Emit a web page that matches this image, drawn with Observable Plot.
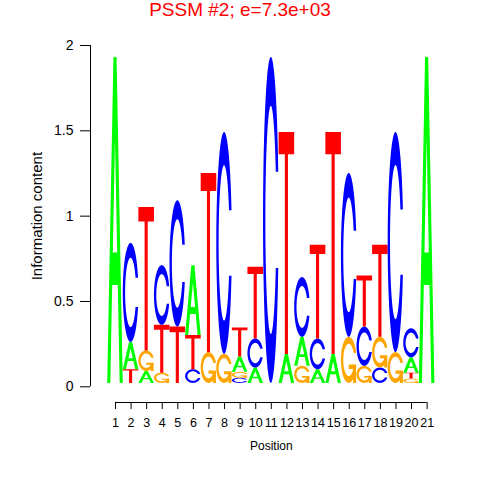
<!DOCTYPE html>
<html><head><meta charset="utf-8">
<script src="https://cdn.jsdelivr.net/npm/d3@7"></script>
<script src="https://cdn.jsdelivr.net/npm/@observablehq/plot@0.6"></script>
<style>
body{margin:0;background:#fff}
#wrap{position:relative;width:480px;height:480px;font-family:"Liberation Sans",Arial,sans-serif}
#title{position:absolute;top:0;left:0;width:480px;text-align:center;color:#ff0000;font-size:19px;line-height:20px}
</style>
</head><body>
<div id="wrap"><div id="title">PSSM #2; e=7.3e+03</div></div>
<script>
// ---- data ----
const positions = [1,2,3,4,5,6,7,8,9,10,11,12,13,14,15,16,17,18,19,20,21];
const letters = ["A","C","G","T"];
const letterColors = ["#00FF00","#0000FF","#FFA500","#FF0000"];
const heightA = [1.91,0.16,0.07,0,0,0.41,0,0,0.09,0.09,0,0.17,0.17,0.08,0.17,0,0,0,0,0.09,1.91];
const heightC = [0,0.58,0,0.35,0.74,0.08,0,1.30,0.03,0.17,1.91,0,0.35,0.18,0,0.96,0.23,0.09,1.29,0.17,0];
const heightG = [0,0,0.12,0.06,0,0,0.18,0.17,0.035,0,0,0,0.10,0,0,0.27,0.10,0.18,0.18,0.025,0];
const heightT = [0,0.08,0.84,0.28,0.33,0.20,1.05,0,0.17,0.42,0,1.30,0,0.55,1.30,0,0.30,0.54,0,0.035,0];
const yTicks = [0,0.5,1,1.5,2];
const xLabel = "Position";
const yLabel = "Information content";

const baseOffset = 0.02; // letters start slightly above the zero line, as in the original
const heights = {A: heightA, C: heightC, G: heightG, T: heightT};
const rows = [];
positions.forEach((p, i) => {
  const items = letters.map(l => ({letter: l, h: heights[l][i]})).filter(d => d.h > 0).sort((a, b) => a.h - b.h);
  let acc = baseOffset;
  for (const it of items) { rows.push({pos: p, letter: it.letter, y1: acc, y2: acc + it.h}); acc += it.h; }
});

const xMin = -0.604, xMax = 22.5, yMin = -0.092;

const chart = Plot.plot({
  width: 480, height: 480,
  marginLeft: 90, marginRight: 30, marginTop: 45, marginBottom: 78,
  style: {fontFamily: '"Liberation Sans", Arial, sans-serif', fontSize: "12px", background: "#fff", color: "#000"},
  x: {domain: [xMin, xMax], axis: null},
  y: {domain: [yMin, 2], axis: null},
  color: {domain: letters, range: letterColors},
  marks: [
    Plot.rect(rows, {x1: d => d.pos - 0.5, x2: d => d.pos + 0.5, y1: "y1", y2: "y2", fill: "letter", title: "letter"}),
    Plot.ruleX([xMin], {y1: 0, y2: 2, stroke: "#000"}),
    Plot.axisY(yTicks, {anchor: "left", tickSize: 10, tickPadding: 7, tickFormat: d => String(d), fontSize: 14}),
    Plot.ruleY([yMin], {x1: 1, x2: 21, stroke: "#000"}),
    Plot.axisX(positions, {anchor: "bottom", tickSize: 7, tickPadding: 9, tickFormat: d => String(d), fontSize: 12.5}),
    Plot.text([xLabel], {x: 11, y: yMin, text: d => d, dy: 44, fontSize: 12}),
    Plot.text([yLabel], {x: xMin, y: 1, text: d => d, rotate: -90, dx: -53, fontSize: 15})
  ]
});

// ---- letter glyph shapes (unit box, v up) ----
function cOutline() {
  const n = 100, s0 = 0.3 + Math.PI / 2;
  const a1 = Array.from({length: n}, (_, i) => s0 + (Math.PI - s0) * i / (n - 1));
  const a2 = Array.from({length: n}, (_, i) => Math.PI + 0.5 * Math.PI * i / (n - 1));
  const xl = [...a1, ...a2].map(a => 0.5 + 0.5 * Math.sin(a));
  const yl = [...a1, ...a2].map(a => 0.5 + 0.5 * Math.cos(a));
  const x = [...xl, ...xl.slice().reverse()];
  const y = [...yl, ...yl.slice().reverse().map(v => 1 - v)];
  const maxY = Math.max(...a1.map(a => 0.5 + 0.5 * Math.cos(a)));
  let xi1 = a1.map(a => 0.5 + 0.35 * Math.sin(a)), yi1 = a1.map(a => 0.5 + 0.35 * Math.cos(a));
  const keep = yi1.map(v => v <= maxY);
  xi1 = xi1.filter((_, i) => keep[i]); yi1 = yi1.filter((_, i) => keep[i]);
  yi1[0] = maxY;
  const xi2 = a2.map(a => 0.5 + 0.35 * Math.sin(a)), yi2 = a2.map(a => 0.5 + 0.35 * Math.cos(a));
  const xi = [...xi1, ...xi2], yi = [...yi1, ...yi2];
  const x1 = [...xi, ...xi.slice().reverse()], y1 = [...yi, ...yi.slice().reverse().map(v => 1 - v)];
  const X = [...x, ...x1.slice().reverse()], Y = [...y, ...y1.slice().reverse()];
  return X.map((v, i) => [v, Y[i]]);
}
const C_POLY = cOutline();
const R1 = 0.5 + 0.5 * Math.sin(0.3 + Math.PI / 2);
const shapes = {
  A: {rule: "evenodd", polys: [[[0,0],[0.4,1],[0.6,1],[1,0],[0.8,0],[0.68,0.3],[0.32,0.3],[0.2,0]], [[0.36,0.4],[0.5,0.75],[0.64,0.4]]]},
  C: {rule: "nonzero", polys: [C_POLY]},
  G: {rule: "nonzero", separate: true, polys: [C_POLY, [[R1,0.4],[0.5,0.4],[0.5,0.3],[R1-0.2,0.3],[R1-0.2,0],[R1,0]]]},
  T: {rule: "nonzero", polys: [[[0,1],[1,1],[1,0.9],[0.6,0.9],[0.6,0],[0.4,0],[0.4,0.9],[0,0.9]]]}
};
function polyD(pts, x, y, w, h) {
  return "M" + pts.map(([u, v]) => `${(x + u * w).toFixed(2)},${(y + (1 - v) * h).toFixed(2)}`).join("L") + "Z";
}
const NS = "http://www.w3.org/2000/svg";
chart.querySelectorAll("rect").forEach(rect => {
  const t = rect.querySelector("title");
  if (!t) return;
  const letter = t.textContent.trim();
  const shape = shapes[letter];
  if (!shape) return;
  const x = +rect.getAttribute("x"), y = +rect.getAttribute("y");
  const w = +rect.getAttribute("width"), h = +rect.getAttribute("height");
  const fill = rect.getAttribute("fill") || rect.parentNode.getAttribute("fill");
  const groups = shape.separate ? shape.polys.map(p => [p]) : [shape.polys];
  groups.forEach(g => {
    const path = document.createElementNS(NS, "path");
    path.setAttribute("d", g.map(p => polyD(p, x, y, w, h)).join(""));
    path.setAttribute("fill", fill);
    path.setAttribute("fill-rule", shape.rule);
    const tt = document.createElementNS(NS, "title");
    tt.textContent = letter;
    path.appendChild(tt);
    rect.parentNode.insertBefore(path, rect);
  });
  rect.remove();
});

document.getElementById("wrap").appendChild(chart);
</script>
</body></html>
